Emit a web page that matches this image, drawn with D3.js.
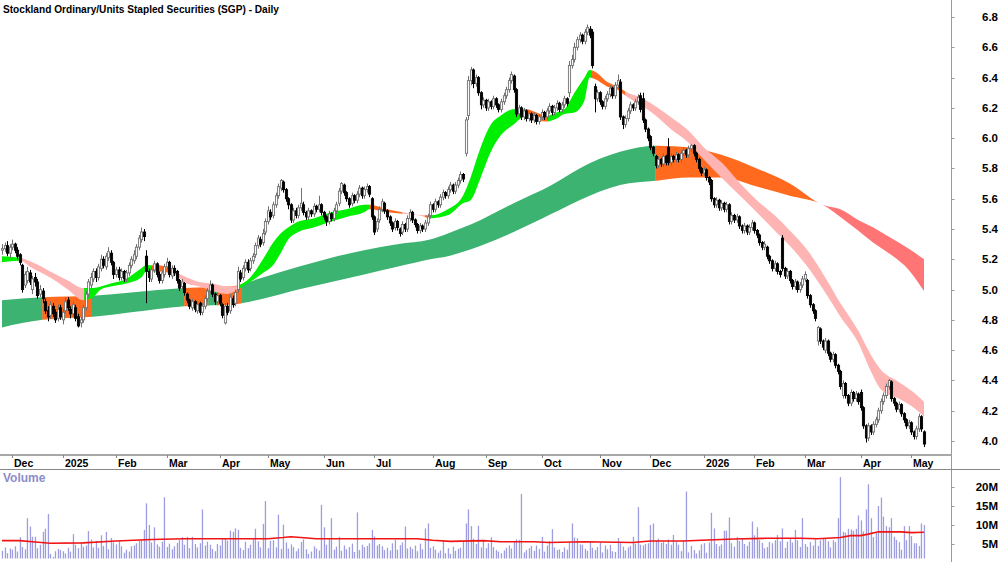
<!DOCTYPE html>
<html>
<head>
<meta charset="utf-8">
<script src="https://cdn.jsdelivr.net/npm/d3@7"></script>
<style>
  body { margin: 0; background: #fff; }
  svg { display: block; font-family: "Liberation Sans", Arial, sans-serif; }
</style>
</head>
<body>
<div id="chart"></div>
<script>
// daily bars, prices in cents
const opens = [
  526,527,529,524,528,530,526,523,516,503, 506,511,500,508,505,497,499,492,486,483,
  489,485,481,488,480,486,493,487,484,488, 482,478,480,488,497,503,507,512,508,514,
  520,515,521,524,518,510,513,508,512,507, 511,516,519,522,528,533,538,522,512,507,
  513,517,510,506,510,515,518,509,514,512, 506,502,504,497,493,488,492,486,491,485,
  489,494,499,503,497,492,496,490,478,489, 486,494,491,500,511,508,514,518,514,519,
  523,529,533,531,538,545,551,549,556,562, 567,571,566,560,556,546,552,549,554,556,
  551,548,552,550,555,553,556,551,548,545, 550,547,552,557,565,569,564,560,557,562,
  559,563,567,562,566,568,560,548,540,546, 553,557,552,548,544,541,545,540,538,543,
  540,547,551,546,543,539,542,540,544,549, 556,553,558,556,561,564,562,566,569,565,
  569,572,576,590,615,638,645,636,640,630, 622,625,620,624,621,626,622,619,624,628,
  632,638,641,632,616,620,614,618,613,616, 612,615,611,614,617,614,618,621,617,620,
  623,619,622,626,630,648,652,660,665,668, 664,670,672,670,634,626,630,624,621,626,
  629,633,628,635,637,614,609,613,618,622, 620,624,628,626,612,606,601,594,588,582,
  586,583,588,594,584,588,586,589,586,590, 592,589,593,595,590,586,580,577,579,574,
  572,560,556,559,554,557,553,556,545,549, 546,548,542,539,542,538,541,544,539,536,
  531,528,528,522,519,514,517,512,534,514, 509,512,506,502,505,500,503,507,506,496,
  490,486,466,474,466,460,466,458,454,457, 450,446,430,438,430,425,432,428,431,432,
  422,410,402,410,406,411,414,420,426,430, 436,439,428,425,421,424,418,414,410,412,
  406,403,408,416,406
];
const highs = [
  530,531,532,530,533,531,528,524,517,512, 515,513,509,511,507,503,501,494,489,492,
  491,487,490,490,487,495,495,489,492,490, 484,482,490,499,507,511,514,514,517,523,
  522,524,528,526,519,515,515,514,513,513, 518,522,526,530,536,541,540,526,514,515,
  519,518,512,513,517,521,519,516,516,513, 507,507,505,498,494,494,493,492,492,491,
  496,501,506,504,498,498,497,491,491,491, 497,496,500,515,513,516,520,520,521,524,
  531,536,535,540,547,555,553,558,564,570, 573,572,567,561,557,554,554,556,567,558,
  552,554,553,557,556,562,557,552,549,552, 551,554,558,567,571,570,565,561,564,563,
  565,569,568,568,570,569,561,549,547,555, 560,558,553,549,545,547,546,541,545,544,
  549,553,552,547,544,544,543,546,550,558, 557,560,559,563,566,565,568,571,570,571,
  574,578,577,614,641,647,646,642,641,631, 627,626,626,625,628,627,623,626,630,634,
  640,644,642,633,622,621,620,619,618,617, 617,616,616,619,618,620,623,622,622,625,
  624,624,628,627,651,655,663,667,670,669, 672,675,674,672,636,632,631,625,628,631,
  635,634,637,642,639,615,615,620,624,623, 626,629,630,630,613,607,602,595,589,588,
  587,590,589,600,590,589,591,590,592,594, 593,595,596,596,591,587,581,581,580,575,
  573,561,561,560,559,558,558,557,551,550, 550,549,543,544,543,543,546,545,540,537,
  532,532,529,523,520,519,518,513,536,515, 514,513,507,507,506,505,509,512,507,497,
  491,487,476,475,467,468,467,459,459,458, 451,447,440,439,431,434,433,433,432,434,
  423,411,412,411,413,416,422,428,432,438, 441,440,429,426,426,425,419,415,414,413,
  407,410,418,417,407
];
const lows = [
  523,525,522,521,526,524,520,516,498,501, 504,503,497,502,494,495,491,484,479,481,
  482,478,479,480,477,484,486,481,482,479, 475,475,478,486,495,501,505,505,506,512,
  514,513,519,516,507,508,506,506,505,505, 509,514,517,520,526,531,532,491,505,505,
  511,508,504,504,508,513,508,507,509,504, 499,500,496,491,487,486,485,484,483,483,
  487,492,497,495,490,490,489,481,477,483, 484,488,489,498,505,506,512,511,512,517,
  521,527,528,529,536,543,546,547,554,560, 565,564,558,553,544,544,547,547,552,549,
  546,546,548,548,551,551,549,546,542,543, 545,545,550,555,563,562,558,554,555,557,
  557,561,560,560,564,561,546,536,538,544, 551,550,546,542,538,539,539,535,536,538,
  538,545,544,541,537,537,538,538,542,547, 551,551,554,554,559,560,560,564,563,563,
  567,570,571,588,612,635,633,634,628,619, 620,618,618,619,619,620,617,617,622,626,
  630,636,630,614,614,612,612,611,611,610, 610,609,609,612,612,612,616,615,615,618,
  617,617,620,621,627,646,650,658,663,662, 662,668,666,646,617,624,622,619,619,624,
  627,626,626,633,612,606,607,611,616,618, 618,622,617,610,604,598,592,588,580,580,
  581,581,582,582,582,584,584,584,584,588, 587,587,591,588,584,578,575,575,572,569,
  558,554,554,552,552,551,551,543,543,544, 544,540,537,537,536,536,539,537,534,529,
  526,526,520,517,512,512,510,508,512,507, 507,504,500,500,498,498,501,505,494,488,
  484,479,463,464,460,458,456,452,452,448, 444,434,428,428,423,423,426,426,424,420,
  408,399,400,404,404,409,412,418,424,428, 434,426,423,419,419,416,412,408,408,404,
  401,401,406,406,396
];
const closes = [
  527,529,524,528,530,526,522,518,500,510, 512,505,507,505,496,500,494,486,482,490,
  484,480,487,482,485,492,488,484,490,481, 476,480,488,497,505,508,512,508,515,520,
  516,522,525,518,510,513,508,512,507,511, 516,520,523,528,534,538,535,512,508,513,
  517,510,506,511,515,518,510,514,511,506, 501,505,498,493,489,492,487,490,485,489,
  494,499,503,497,492,496,491,483,489,485, 495,490,498,512,507,514,518,513,519,522,
  529,534,530,537,545,552,548,556,562,568, 572,566,560,556,546,552,549,554,557,551,
  548,552,550,555,553,556,551,548,545,550, 547,552,556,565,570,564,560,556,562,559,
  563,567,562,566,568,563,548,538,545,553, 558,552,548,544,540,545,541,537,543,540,
  547,551,546,543,539,542,540,544,548,556, 553,558,556,561,564,562,566,569,565,569,
  572,576,573,612,638,645,636,640,630,622, 625,620,624,621,626,622,619,624,628,632,
  638,642,632,616,620,614,618,613,616,612, 615,611,614,617,614,618,621,617,620,623,
  619,622,626,623,648,652,660,665,668,664, 670,673,668,648,626,630,624,621,626,629,
  633,628,635,638,614,609,613,618,622,620, 624,627,619,612,606,600,594,590,582,586,
  583,588,584,584,588,586,589,586,590,592, 589,593,595,590,586,580,577,579,574,571,
  560,556,559,554,557,553,556,545,549,546, 548,542,539,542,538,541,544,539,536,531,
  528,530,522,519,514,517,512,510,514,509, 512,506,502,505,500,503,507,510,496,490,
  486,481,475,466,462,466,458,454,457,450, 446,436,438,430,425,432,428,431,426,422,
  410,402,410,406,411,414,420,426,430,436, 440,428,425,421,424,418,414,410,412,406,
  403,408,416,408,398
];
// volume, millions of shares
const volumes = [
  3.2,4.1,2.6,3.8,3.5,4.4,3.0,6.8,4.2,3.6, 11.8,9.6,6.9,6.9,3.9,4.8,8.2,9.0,12.9,2.4,
  1.6,3.1,3.7,3.4,3.1,2.5,4.0,3.0,7.6,4.8, 3.9,5.5,4.3,4.6,8.4,6.2,4.1,5.8,4.0,7.3,
  4.5,8.2,3.6,6.6,5.4,4.9,5.7,4.4,2.7,3.5, 3.0,4.4,4.6,5.2,5.8,6.0,8.7,15.7,10.0,5.4,
  9.4,4.9,4.3,5.6,17.3,4.2,5.1,3.6,4.4,5.3, 6.0,6.8,4.8,6.9,3.9,6.9,5.0,4.1,5.2,14.1,
  4.6,5.6,4.8,3.7,3.1,5.0,4.6,6.3,6.4,5.9, 8.5,8.2,9.1,8.7,4.0,3.4,5.6,3.9,4.8,6.2,
  9.0,5.7,4.1,10.3,16.3,3.9,5.8,6.0,4.1,12.7, 3.7,10.1,5.4,3.8,4.9,4.2,3.1,3.8,5.5,6.2,
  3.6,2.4,3.0,4.4,3.8,3.3,15.3,9.4,4.8,6.4, 11.8,3.5,4.3,6.9,3.2,4.6,3.6,4.2,5.1,2.9,
  13.3,3.4,4.8,4.2,4.5,5.2,8.7,7.0,4.6,5.0, 4.4,3.4,4.0,3.3,5.2,6.1,3.5,4.7,5.4,9.6,
  3.8,4.3,3.7,4.6,3.1,5.1,3.6,9.1,10.4,4.0, 4.4,3.5,2.7,3.3,5.8,2.6,3.9,2.4,4.3,3.2,
  3.7,4.0,5.6,10.4,14.1,9.7,6.4,5.0,9.8,4.1, 6.1,3.9,5.2,6.8,4.2,3.4,3.0,2.6,3.3,4.0,
  4.6,3.8,5.6,6.2,6.1,18.2,2.8,3.4,3.9,4.5, 3.2,4.6,3.7,6.9,3.0,4.6,5.8,8.9,4.1,3.4,
  3.6,2.9,4.1,3.5,5.4,10.4,6.7,6.5,4.9,4.8, 3.7,3.2,5.6,4.0,3.4,4.2,5.4,2.8,4.6,3.6,
  4.8,3.1,2.9,6.6,5.2,4.3,3.3,4.1,4.5,6.9, 5.1,14.7,4.8,4.6,5.0,5.2,10.0,10.4,5.9,6.4,
  5.3,5.5,5.0,6.2,4.8,7.4,5.5,4.8,3.1,6.0, 18.8,2.8,4.5,3.4,2.5,3.3,4.9,5.2,2.7,5.4,
  13.2,9.1,5.0,4.4,4.9,8.5,8.5,12.0,5.2,4.3, 6.8,5.8,6.4,5.0,4.5,5.6,10.9,7.3,9.4,6.0,
  5.3,3.9,4.2,5.5,5.2,6.0,7.4,5.7,9.1,4.0, 5.6,6.4,5.4,8.7,6.0,4.2,11.8,5.0,4.3,5.5,
  4.6,6.2,4.5,6.0,6.4,6.5,5.7,4.1,6.0,5.5, 11.8,22.6,8.2,8.0,9.0,8.8,8.5,9.0,12.5,11.2,
  8.3,14.1,20.7,11.8,6.8,8.0,15.0,17.2,12.2,9.7, 9.4,11.8,6.9,6.1,5.5,3.5,9.7,6.0,9.7,7.1,
  5.2,5.2,4.5,10.4,10.0
];
// volume moving average, read at these bars
const volMaIdx = [0,7,12,19,32,45,59,72,90,105,111,114,118,124,138,164,170,177,190,197,210,216,230,249,256,269,276,289,302,315,322,331,335,339,342,346,355,359,364];
const volMa = [5.9,5.9,5.6,5.2,5.3,5.8,6.2,6.4,6.4,6.4,6.7,6.9,6.7,6.4,6.4,6.4,6.0,5.7,5.9,5.6,5.6,5.4,5.6,5.4,5.8,5.8,6.0,6.3,6.5,6.5,6.4,6.7,7.2,7.2,7.6,8.2,8.2,8.0,8.1];

// long-term trend band edges
const slowIdx = [0,16,36,51,72,90,103,117,130,143,156,169,176,182,189,202,217,228,244,259,271,284,298,311,324,331,338,344,351,358,364];
const slowTop = [4.93,4.95,4.96,4.98,5.01,5.02,5.08,5.15,5.21,5.26,5.30,5.33,5.37,5.41,5.46,5.57,5.69,5.80,5.91,5.95,5.94,5.89,5.80,5.70,5.56,5.53,5.46,5.41,5.34,5.27,5.20];
const slowBot = [4.75,4.80,4.82,4.85,4.89,4.90,4.94,5.00,5.05,5.10,5.15,5.20,5.22,5.25,5.29,5.38,5.50,5.59,5.69,5.72,5.74,5.74,5.68,5.62,5.56,5.48,5.39,5.31,5.23,5.13,4.99];
const slowSegStart = [0,16,35.5,72,81.5,85,94.5,258,324.5];
const slowSegState = ['up','mixed','up','mixed','up','mixed','up','mixed','down'];

// short-term trend band edges
const fastIdx = [0,7,12,19,26,32,36,39,43,49,55,57,62,68,73,78,83,89,91,95,98,103,107,110,113,117,123,130,136,143,145,152,158,167,169,176,182,185,189,193,197,202,207,211,215,219,222,226,230,232,234,239,243,247,252,258,264,271,277,284,292,298,305,311,318,325,331,338,343,347,354,360,364];
const fastTop = [5.22,5.21,5.18,5.12,5.06,5.01,5.01,5.02,5.04,5.07,5.14,5.16,5.16,5.12,5.08,5.05,5.04,5.02,5.02,5.04,5.08,5.20,5.31,5.37,5.41,5.45,5.47,5.51,5.53,5.56,5.56,5.53,5.51,5.49,5.49,5.53,5.62,5.74,5.94,6.09,6.15,6.19,6.19,6.17,6.15,6.17,6.19,6.30,6.40,6.45,6.44,6.37,6.34,6.30,6.27,6.21,6.14,6.05,5.94,5.84,5.69,5.59,5.49,5.39,5.26,5.08,4.91,4.73,4.57,4.47,4.39,4.32,4.26];
const fastBot = [5.18,5.19,5.14,5.08,5.00,4.93,4.95,5.00,5.02,5.04,5.08,5.12,5.12,5.10,5.04,5.02,4.99,4.97,4.98,5.02,5.05,5.11,5.16,5.24,5.33,5.38,5.41,5.45,5.48,5.51,5.53,5.51,5.50,5.48,5.47,5.49,5.57,5.59,5.74,5.91,6.02,6.09,6.15,6.12,6.11,6.13,6.16,6.17,6.25,6.40,6.39,6.34,6.32,6.27,6.22,6.15,6.06,5.97,5.86,5.74,5.61,5.51,5.39,5.29,5.15,4.98,4.82,4.65,4.46,4.34,4.28,4.22,4.16];
const fastSegStart = [0,7,32.5,59,67.5,94,145,158,167,169,206.5,215.5,233,246];
const fastSegState = ['up','down','up','mixed','down','up','mixed','down','mixed','up','mixed','up','mixed','down'];

// axis labels
const monthIdx = [4,24,45,65,86,105,127,147,170,191,213,236,256,277,297,317,339,359];
const monthLabels = ['Dec','2025','Feb','Mar','Apr','May','Jun','Jul','Aug','Sep','Oct','Nov','Dec','2026','Feb','Mar','Apr','May'];
const priceTicks = [4.0,4.2,4.4,4.6,4.8,5.0,5.2,5.4,5.6,5.8,6.0,6.2,6.4,6.6,6.8];
const volTicks = [5,10,15,20];

const slowColors = { up: '#3cb371', mixed: '#ff6a1f', down: '#ff7474' };
const fastColors = { up: '#00ee00', mixed: '#ff6a1f', down: '#ffb4b4' };

const width = 1000, height = 562;
const axisX = 951.5;

const svg = d3.select('#chart').append('svg')
  .attr('width', width)
  .attr('height', height);
const defs = svg.append('defs');

const n = closes.length;
const x = d3.scaleLinear().domain([0, n - 1]).range([2, 924]);
const y = d3.scaleLinear().domain([4.0, 6.8]).range([441, 17]);
const yv = d3.scaleLinear().domain([0, 20]).range([563, 487]);

// bands drawn once per colour state, cut to the state's bar range
const drawBand = (name, idx, top, bot, segStart, segState, colors) => {
  const pts = idx.map((d, k) => ({ i: d, a: top[k], b: bot[k] }));
  const area = d3.area()
    .curve(d3.curveMonotoneX)
    .x(d => x(d.i))
    .y0(d => y(d.b))
    .y1(d => y(d.a));
  const g = svg.append('g');
  segStart.forEach((s, k) => {
    const last = k === segStart.length - 1;
    const x0 = k === 0 ? 0 : x(s) - 0.2;
    const x1 = last ? x(idx[idx.length - 1]) + 2 : x(segStart[k + 1]) + 0.2;
    defs.append('clipPath').attr('id', name + k)
      .append('rect')
      .attr('x', x0).attr('y', 0)
      .attr('width', x1 - x0).attr('height', 452);
    g.append('path')
      .datum(pts)
      .attr('d', area)
      .attr('fill', colors[segState[k]])
      .attr('clip-path', `url(#${name}${k})`);
  });
};

drawBand('slow', slowIdx, slowTop, slowBot, slowSegStart, slowSegState, slowColors);
drawBand('fast', fastIdx, fastTop, fastBot, fastSegStart, fastSegState, fastColors);

// candles
const bars = d3.range(n).map(i => ({
  i, o: opens[i] / 100, h: highs[i] / 100, l: lows[i] / 100, c: closes[i] / 100
}));
const candle = svg.append('g').selectAll('g')
  .data(bars)
  .enter().append('g');

candle.append('line')
  .attr('x1', d => Math.round(x(d.i)) + 0.5)
  .attr('x2', d => Math.round(x(d.i)) + 0.5)
  .attr('y1', d => y(d.h))
  .attr('y2', d => y(d.l))
  .attr('stroke', d => d.c >= d.o ? '#707070' : '#000')
  .attr('stroke-width', 1);

candle.append('rect')
  .attr('x', d => Math.round(x(d.i)) - 0.6)
  .attr('width', 2.2)
  .attr('y', d => y(Math.max(d.o, d.c)))
  .attr('height', d => Math.max(1, Math.abs(y(d.o) - y(d.c))))
  .attr('fill', d => d.c >= d.o ? '#fafafa' : '#000')
  .attr('stroke', d => d.c >= d.o ? '#707070' : '#000')
  .attr('stroke-width', 0.9);

// title
svg.append('text')
  .attr('x', 3)
  .attr('y', 13)
  .attr('font-size', '10.8px')
  .attr('font-weight', 'bold')
  .attr('textLength', 276)
  .attr('lengthAdjust', 'spacingAndGlyphs')
  .text('Stockland Ordinary/Units Stapled Securities (SGP) - Daily');

// right axis line
svg.append('line')
  .attr('x1', axisX).attr('x2', axisX)
  .attr('y1', 0).attr('y2', height)
  .attr('stroke', '#999');

// price axis
const priceAxis = svg.append('g');
priceAxis.selectAll('line')
  .data(priceTicks)
  .enter().append('line')
  .attr('x1', axisX).attr('x2', axisX + 3)
  .attr('y1', d => Math.round(y(d)) + 0.5)
  .attr('y2', d => Math.round(y(d)) + 0.5)
  .attr('stroke', '#999');
priceAxis.selectAll('text')
  .data(priceTicks)
  .enter().append('text')
  .attr('x', 998)
  .attr('y', d => y(d) + 4)
  .attr('text-anchor', 'end')
  .attr('font-size', '11.5px')
  .attr('font-weight', 'bold')
  .text(d => d3.format('.1f')(d));

// date strip
svg.append('line')
  .attr('x1', 0).attr('x2', axisX)
  .attr('y1', 455).attr('y2', 455)
  .attr('stroke', '#a8a8a8')
  .attr('stroke-width', 2);
svg.append('line')
  .attr('x1', 0).attr('x2', width)
  .attr('y1', 469.5).attr('y2', 469.5)
  .attr('stroke', '#888');

const dateAxis = svg.append('g');
monthIdx.forEach((mi, k) => {
  const mx = Math.round(x(mi)) + 0.5;
  dateAxis.append('line')
    .attr('x1', mx).attr('x2', mx)
    .attr('y1', 455).attr('y2', 458)
    .attr('stroke', '#888');
  dateAxis.append('text')
    .attr('x', mx + 1.5)
    .attr('y', 466.5)
    .attr('font-size', '10.5px')
    .attr('font-weight', 'bold')
    .text(monthLabels[k]);
});

// volume panel
defs.append('clipPath').attr('id', 'volClip')
  .append('rect')
  .attr('x', 0).attr('y', 471)
  .attr('width', axisX).attr('height', 87.5);

const volG = svg.append('g').attr('clip-path', 'url(#volClip)');
volG.selectAll('rect')
  .data(volumes)
  .enter().append('rect')
  .attr('x', (d, i) => Math.round(x(i)) - 0.2)
  .attr('width', 1.3)
  .attr('y', d => yv(d))
  .attr('height', d => yv(0) - yv(d))
  .attr('fill', '#9d9ddf');

const maLine = d3.line()
  .x(d => x(d[0]))
  .y(d => yv(d[1]));
volG.append('path')
  .datum(volMaIdx.map((d, k) => [d, volMa[k]]))
  .attr('d', maLine)
  .attr('fill', 'none')
  .attr('stroke', '#f01414')
  .attr('stroke-width', 1.6);

svg.append('text')
  .attr('x', 3)
  .attr('y', 482)
  .attr('font-size', '12px')
  .attr('font-weight', 'bold')
  .attr('fill', '#8c8cc8')
  .text('Volume');

const volAxis = svg.append('g');
volAxis.selectAll('line')
  .data(volTicks)
  .enter().append('line')
  .attr('x1', axisX).attr('x2', axisX + 3)
  .attr('y1', d => Math.round(yv(d)) + 0.5)
  .attr('y2', d => Math.round(yv(d)) + 0.5)
  .attr('stroke', '#999');
volAxis.selectAll('text')
  .data(volTicks)
  .enter().append('text')
  .attr('x', 998)
  .attr('y', d => yv(d) + 4)
  .attr('text-anchor', 'end')
  .attr('font-size', '11.5px')
  .attr('font-weight', 'bold')
  .text(d => d + 'M');
</script>
</body>
</html>
